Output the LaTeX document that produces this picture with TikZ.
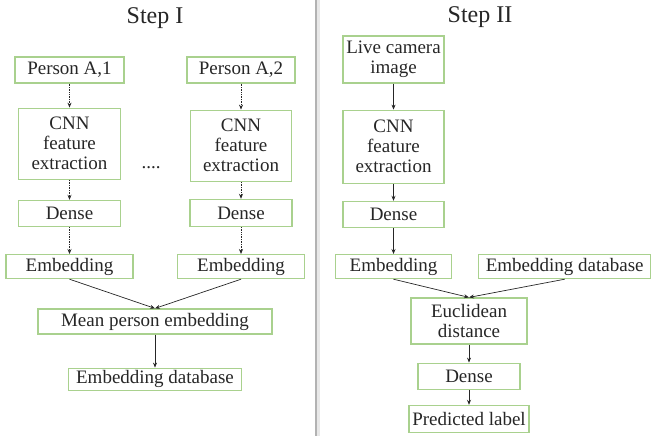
\documentclass[tikz,border=0pt]{standalone}
\usepackage{fontspec}
\setmainfont{Liberation Serif}
\newfontfamily\diagfont{Liberation Serif}
\usetikzlibrary{positioning,arrows.meta}
\definecolor{boxgreen}{RGB}{169,209,142}
\definecolor{inkgray}{RGB}{38,38,38}

\begin{document}
\begin{tikzpicture}[
    x=1pt, y=-1pt,
    box/.style={rectangle, draw=boxgreen, line width=1.2pt, inner sep=0pt, align=center, text=inkgray, font=\diagfont\fontsize{19}{20}\selectfont},
    title/.style={anchor=base, text=inkgray, font=\diagfont\fontsize{24}{28}\selectfont},
    arrow/.style={-{Stealth[length=5pt,width=4pt]}, draw=inkgray, line width=0.7pt},
    darrow/.style={arrow, densely dotted},
    node distance=20pt
]
\useasboundingbox (0,0) rectangle (658,436);

% Separator between the two steps
\coordinate (sepTop) at (316,0);
\coordinate (sepBot) at (316,436);
\draw[gray!18, line width=3pt] ([xshift=2pt]sepTop) -- ([xshift=2pt]sepBot);
\draw[gray!60, line width=1.3pt] (sepTop) -- (sepBot);

% Step I
\node[title] (stepI) at (155,24) {Step I};
\node[box, minimum width=109pt, minimum height=26pt] (personA) at (69.5,70) {Person A,1};
\node[box, minimum width=102pt, minimum height=71pt, below=24pt of personA] (cnnA) {CNN\\feature\\extraction};
\node[box, minimum width=102pt, minimum height=26pt, below=20pt of cnnA] (denseA) {Dense};
\node[box, minimum width=127pt, minimum height=24pt, below=27pt of denseA] (embA) {Embedding};

\node[box, minimum width=108pt, minimum height=26pt] (personB) at (241,70) {Person A,2};
\node[box, minimum width=101pt, minimum height=71pt, below=26pt of personB] (cnnB) {CNN\\feature\\extraction};
\node[box, minimum width=102pt, minimum height=27pt, below=17pt of cnnB] (denseB) {Dense};
\node[box, minimum width=127pt, minimum height=24pt, below=27pt of denseB] (embB) {Embedding};

\node[text=inkgray, font=\diagfont\fontsize{19}{20}\selectfont] (dots) at (151,168) {....};

\node[box, minimum width=234pt, minimum height=25pt] (meanEmb) at (155,321.5) {Mean person embedding};
\node[box, minimum width=173pt, minimum height=22pt, below=33pt of meanEmb] (dbA) {Embedding database};

% Step II
\node[title] (stepII) at (480,23) {Step II};
\node[box, minimum width=101pt, minimum height=47pt] (live) at (393.5,59.5) {Live camera\\image};
\node[box, minimum width=101pt, minimum height=73pt, below=26pt of live] (cnnC) {CNN\\feature\\extraction};
\node[box, minimum width=101pt, minimum height=26pt, below=17pt of cnnC] (denseC) {Dense};
\node[box, minimum width=116pt, minimum height=24pt, below=26pt of denseC] (embC) {Embedding};
\node[box, minimum width=172pt, minimum height=24pt, right=26pt of embC] (dbB) {Embedding database};

\node[box, minimum width=116pt, minimum height=46pt] (eucl) at (469,321) {Euclidean\\distance};
\node[box, minimum width=102pt, minimum height=26pt, below=18pt of eucl] (denseD) {Dense};
\node[box, minimum width=120pt, minimum height=27pt, below=15pt of denseD] (pred) {Predicted label};

% Arrows of step I
\draw[darrow] (personA) -- (cnnA);
\draw[darrow] (cnnA) -- (denseA);
\draw[darrow] (denseA) -- (embA);
\draw[darrow] (personB) -- (cnnB);
\draw[darrow] (cnnB) -- (denseB);
\draw[darrow] (denseB) -- (embB);
\draw[arrow] (embA.south) -- (meanEmb.north);
\draw[arrow] (embB.south) -- (meanEmb.north);
\draw[arrow] (meanEmb) -- (dbA);

% Arrows of step II
\draw[arrow] (live) -- (cnnC);
\draw[arrow] (cnnC) -- (denseC);
\draw[arrow] (denseC) -- (embC);
\draw[arrow] (embC.south) -- (eucl.north);
\draw[arrow] (dbB.south) -- (eucl.north);
\draw[arrow] (eucl) -- (denseD);
\draw[arrow] (denseD) -- (pred);

\end{tikzpicture}
\end{document}
